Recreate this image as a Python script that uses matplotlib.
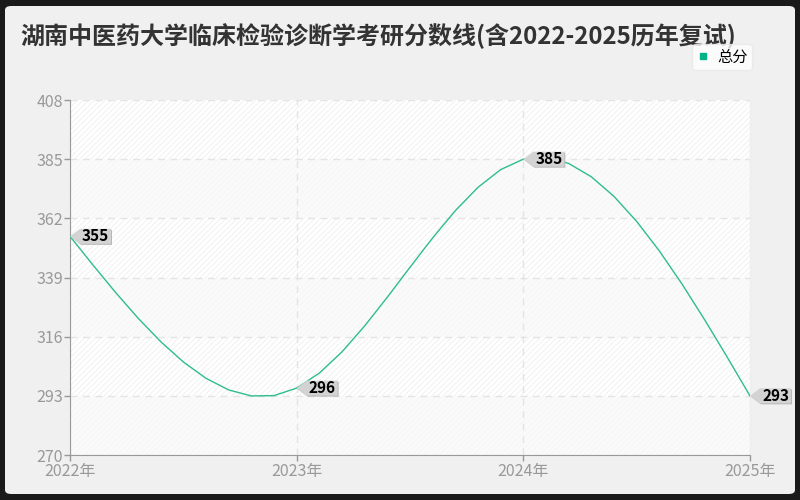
import matplotlib
matplotlib.use('Agg')
import matplotlib.pyplot as plt
import matplotlib.transforms as mtransforms
from matplotlib.patches import Polygon, FancyBboxPatch
from matplotlib.lines import Line2D
import numpy as np

plt.rcParams['font.family'] = ['Noto Sans CJK SC', 'DejaVu Sans']
plt.rcParams['hatch.linewidth'] = 0.6

title = '湖南中医药大学临床检验诊断学考研分数线(含2022-2025历年复试)'
years = ['2022年', '2023年', '2024年', '2025年']
scores = [355, 296, 385, 293]
series_name = '总分'
yticks = [270, 293, 316, 339, 362, 385, 408]

line_color = '#2ebd8c'


def natural_spline(y, steps=10):
    # natural cubic spline on unit spacing, sampled like a spline renderer
    y = np.asarray(y, dtype=float)
    n = len(y)
    A = np.zeros((n, n))
    b = np.zeros(n)
    A[0, 0] = A[-1, -1] = 1
    for i in range(1, n - 1):
        A[i, i - 1], A[i, i], A[i, i + 1] = 1, 4, 1
        b[i] = 6 * (y[i - 1] - 2 * y[i] + y[i + 1])
    M = np.linalg.solve(A, b)
    xs, ys = [], []
    for i in range(n - 1):
        for t in np.linspace(0, 1, steps, endpoint=False):
            xs.append(i + t)
            ys.append(y[i] * (1 - t) + y[i + 1] * t
                      + ((1 - t) ** 3 - (1 - t)) * M[i] / 6 + (t ** 3 - t) * M[i + 1] / 6)
    xs.append(n - 1)
    ys.append(y[-1])
    return np.array(xs), np.array(ys)


fig = plt.figure(figsize=(8, 5), dpi=100, facecolor='#1a1a1a')
fig.patches.append(FancyBboxPatch((5 / 800, 6 / 500), 790 / 800, 488 / 500,
                                  boxstyle='round,pad=0,rounding_size=0.008',
                                  transform=fig.transFigure, facecolor='#f0f0f0',
                                  edgecolor='none', zorder=-5))

ax = fig.add_axes([70 / 800, 45 / 500, 680 / 800, 355 / 500])
ax.set_zorder(1)
ax.set_facecolor('white')
x = np.arange(len(scores))
ax.set_xlim(0, len(scores) - 1)
ax.set_ylim(yticks[0], yticks[-1])

# alternating bands, hatched and plain
for i in range(len(yticks) - 1):
    if (len(yticks) - 2 - i) % 2 == 0:
        ax.axhspan(yticks[i], yticks[i + 1], facecolor='white', edgecolor='#efefef',
                   hatch='//////', linewidth=0, zorder=0)
    else:
        ax.axhspan(yticks[i], yticks[i + 1], facecolor='#fafafa', edgecolor='#f6f6f6',
                   hatch='//////', linewidth=0, zorder=0)

ax.grid(True, linestyle=(0, (5, 4)), color='#e4e4e4', linewidth=1)
ax.set_axisbelow(True)

sx, sy = natural_spline(scores)
ax.plot(sx, sy, color=line_color, linewidth=1, zorder=3)

ax.set_xticks(x)
ax.set_xticklabels(years)
ax.set_yticks(yticks)
ax.tick_params(colors='#999999', labelcolor='#999999', labelsize=11.5, length=4, width=1, pad=1)
ax.tick_params(axis='x', pad=2)
ax.spines['top'].set_visible(False)
ax.spines['right'].set_color('#eeeeee')
ax.spines['left'].set_color('#999999')
ax.spines['bottom'].set_color('#999999')

# value callouts
for xi, v in zip(x, scores):
    base = mtransforms.ScaledTranslation(xi, v, ax.transData)
    verts = [(0, 0), (0.1, 0.075), (0.41, 0.075), (0.41, -0.075), (0.1, -0.075)]
    shadow = Polygon(verts, closed=True, facecolor='#b8b8b8', edgecolor='none',
                     transform=fig.dpi_scale_trans + base +
                     mtransforms.Affine2D().translate(1, -1), clip_on=False, zorder=4)
    box = Polygon(verts, closed=True, facecolor='#d3d3d3', edgecolor='none',
                  transform=fig.dpi_scale_trans + base, clip_on=False, zorder=5)
    ax.add_patch(shadow)
    ax.add_patch(box)
    ax.annotate(str(v), (xi, v), xytext=(18.5, 0), textcoords='offset points',
                ha='center', va='center', fontsize=11, fontweight='bold',
                color='black', zorder=6, annotation_clip=False)

fig.text(20 / 800, 1 - 36 / 500, title, fontsize=17.3, fontweight='bold',
         color='#333333', ha='left', va='center')

handle = Line2D([], [], marker='s', linestyle='', color='#00b386', markersize=5)
leg = fig.legend([handle], [series_name], loc='upper right',
                 bbox_to_anchor=(752 / 800, 1 - 44 / 500), fontsize=11,
                 frameon=True, fancybox=True, handlelength=0.8, handletextpad=0.5,
                 borderpad=0.3, borderaxespad=0)
leg.get_frame().set_facecolor('white')
leg.get_frame().set_edgecolor('#e8e8e8')

fig.savefig('out.png', dpi=100, facecolor=fig.get_facecolor())
